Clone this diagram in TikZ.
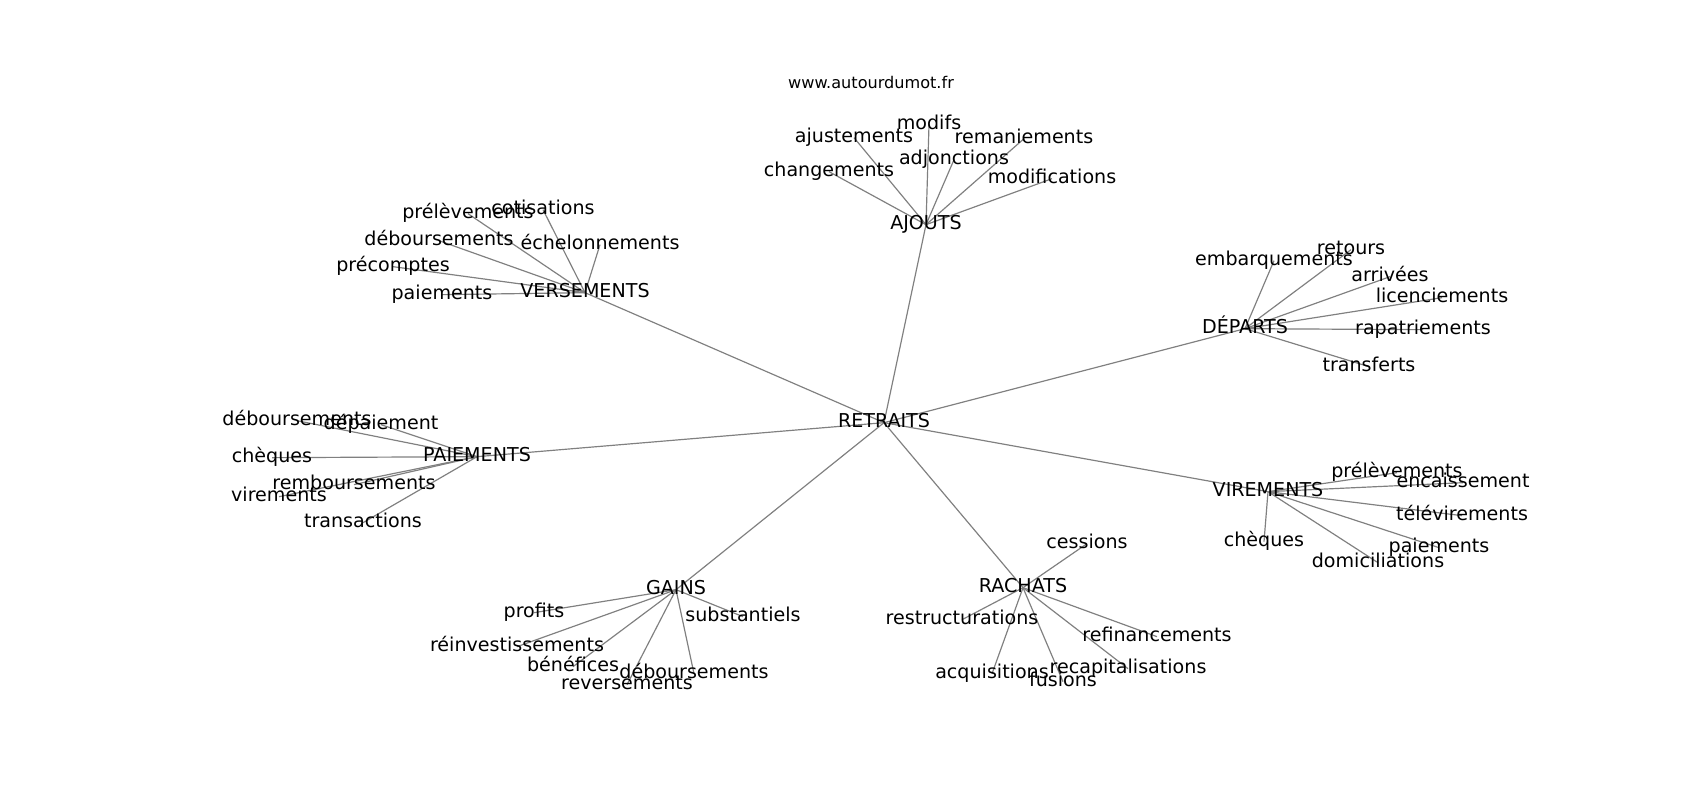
\documentclass[tikz,border=0pt]{standalone}
\usepackage{fontspec}
\setmainfont{DejaVu Sans}
\usetikzlibrary{backgrounds}
\begin{document}
\begin{tikzpicture}[x=0.72pt,y=-0.72pt,
  lbl/.style={inner sep=0pt,anchor=center,yshift=-1.2pt,text height=0.73em,text depth=0pt,font=\fontsize{13.75}{16}\selectfont},
  ttl/.style={inner sep=0pt,anchor=center,yshift=-1.2pt,text height=0.73em,text depth=0pt,font=\fontsize{11.6}{14}\selectfont},
  edge/.style={draw=gray,line width=0.85pt}]
\useasboundingbox (0,0) rectangle (1700,800);
\node[ttl] (title) at (871,82) {www.autourdumot.fr};
% hubs
\node[lbl] (R) at (884,421) {RETRAITS};
\node[lbl] (A) at (926,223) {AJOUTS};
\node[lbl] (V) at (585,291) {VERSEMENTS};
\node[lbl] (D) at (1245,327) {DÉPARTS};
\node[lbl] (P) at (477,455) {PAIEMENTS};
\node[lbl] (Vi) at (1268,490) {VIREMENTS};
\node[lbl] (G) at (676,588) {GAINS};
\node[lbl] (Ra) at (1023,586) {RACHATS};
% AJOUTS leaves
\node[lbl] (a1) at (929,123) {modifs};
\node[lbl] (a2) at (854,136) {ajustements};
\node[lbl] (a3) at (1024,137) {remaniements};
\node[lbl] (a4) at (954,158) {adjonctions};
\node[lbl] (a5) at (829,170) {changements};
\node[lbl] (a6) at (1052,177) {modifications};
% VERSEMENTS leaves
\node[lbl] (v1) at (468,212) {prélèvements};
\node[lbl] (v2) at (543,208) {cotisations};
\node[lbl] (v3) at (439,239) {déboursements};
\node[lbl] (v4) at (600,243) {échelonnements};
\node[lbl] (v5) at (393,265) {précomptes};
\node[lbl] (v6) at (442,293) {paiements};
% DEPARTS leaves
\node[lbl] (d1) at (1274,259) {embarquements};
\node[lbl] (d2) at (1351,248) {retours};
\node[lbl] (d3) at (1390,275) {arrivées};
\node[lbl] (d4) at (1442,296) {licenciements};
\node[lbl] (d5) at (1423,328) {rapatriements};
\node[lbl] (d6) at (1369,365) {transferts};
% PAIEMENTS leaves
\node[lbl] (p1) at (297,419) {déboursements};
\node[lbl] (p2) at (381,423) {dépaiement};
\node[lbl] (p3) at (272,456) {chèques};
\node[lbl] (p4) at (354,483) {remboursements};
\node[lbl] (p5) at (279,495) {virements};
\node[lbl] (p6) at (363,521) {transactions};
% VIREMENTS leaves
\node[lbl] (w1) at (1397,471) {prélèvements};
\node[lbl] (w2) at (1463,481) {encaissement};
\node[lbl] (w3) at (1462,514) {télévirements};
\node[lbl] (w4) at (1264,540) {chèques};
\node[lbl] (w5) at (1439,546) {paiements};
\node[lbl] (w6) at (1378,561) {domiciliations};
% GAINS leaves
\node[lbl] (g1) at (534,611) {profits};
\node[lbl] (g2) at (743,615) {substantiels};
\node[lbl] (g3) at (517,645) {réinvestissements};
\node[lbl] (g4) at (573,665) {bénéfices};
\node[lbl] (g5) at (694,672) {déboursements};
\node[lbl] (g6) at (627,683) {reversements};
% RACHATS leaves
\node[lbl] (r1) at (1087,542) {cessions};
\node[lbl] (r2) at (962,618) {restructurations};
\node[lbl] (r3) at (1157,635) {refinancements};
\node[lbl] (r4) at (992,672) {acquisitions};
\node[lbl] (r5) at (1063,680) {fusions};
\node[lbl] (r6) at (1128,667) {recapitalisations};
\begin{scope}[on background layer]
\fill[white] (0,0) rectangle (1700,800);
\foreach \h in {A,V,D,P,Vi,G,Ra} \draw[edge] (R.center) -- (\h.center);
\foreach \l in {a1,a2,a3,a4,a5,a6} \draw[edge] (A.center) -- (\l.center);
\foreach \l in {v1,v2,v3,v4,v5,v6} \draw[edge] (V.center) -- (\l.center);
\foreach \l in {d1,d2,d3,d4,d5,d6} \draw[edge] (D.center) -- (\l.center);
\foreach \l in {p1,p2,p3,p4,p5,p6} \draw[edge] (P.center) -- (\l.center);
\foreach \l in {w1,w2,w3,w4,w5,w6} \draw[edge] (Vi.center) -- (\l.center);
\foreach \l in {g1,g2,g3,g4,g5,g6} \draw[edge] (G.center) -- (\l.center);
\foreach \l in {r1,r2,r3,r4,r5,r6} \draw[edge] (Ra.center) -- (\l.center);
\end{scope}
\end{tikzpicture}
\end{document}
